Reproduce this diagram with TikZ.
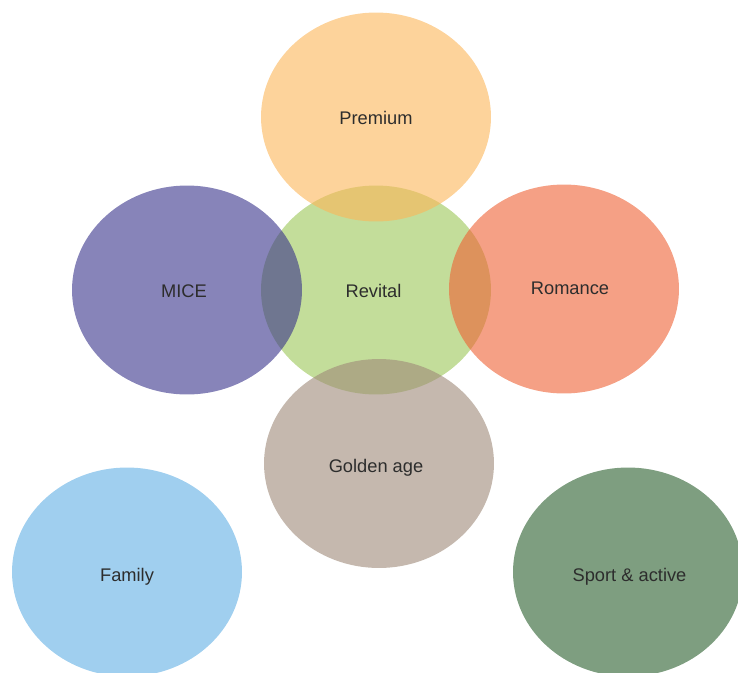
\documentclass[tikz,border=0pt]{standalone}
\usepackage{fontspec}
\setmainfont{Liberation Sans}
\usepackage{xcolor}
\usepackage{tikz}
\usetikzlibrary{shapes.geometric, positioning}
\definecolor{premiumc}{RGB}{252, 182, 88}
\definecolor{revitalc}{RGB}{155, 198, 87}
\definecolor{micec}{RGB}{55, 50, 138}
\definecolor{romancec}{RGB}{238, 97, 52}
\definecolor{goldenc}{RGB}{158, 137, 120}
\definecolor{familyc}{RGB}{97, 175, 228}
\definecolor{sportc}{RGB}{40, 93, 43}
\definecolor{labeltext}{RGB}{45, 45, 45}

\begin{document}
\begin{tikzpicture}[x=0.02cm, y=-0.02cm,
			blob/.style={ellipse, inner sep=0pt, minimum width=4.6cm, minimum height=4.18cm,
				fill opacity=0.6},
			tag/.style={text opacity=1, fill opacity=1, text=labeltext, inner sep=0pt,
				font=\fontsize{10.4}{12}\selectfont}]
			\useasboundingbox (0,0) rectangle (738,673);
			
			\node[blob, fill=revitalc, label={[tag, xshift=-0.05cm, yshift=-0.02cm]center:Revital}] (revital) at (376,290) {};
			\node[blob, fill=premiumc, label={[tag, yshift=-0.02cm]center:Premium}] (premium) at (376,117) {};
			\node[blob, fill=micec, label={[tag, xshift=-0.06cm, yshift=-0.02cm]center:MICE}] (mice) at (187,290) {};
			\node[blob, fill=romancec, label={[tag, xshift=0.12cm, yshift=0.02cm]center:Romance}] (romance) at (564,289) {};
			\node[blob, fill=goldenc, label={[tag, xshift=-0.06cm, yshift=-0.09cm]center:Golden age}] (golden) at (379,463.5) {};
			
			\node[blob, fill=familyc, label={[tag, yshift=-0.1cm]center:Family}] (family) at (127,572) {};
			\node[blob, fill=sportc, label={[tag, xshift=0.03cm, yshift=-0.1cm]center:Sport \& active}] (sport) at (628,572) {};
		\end{tikzpicture}
\end{document}
